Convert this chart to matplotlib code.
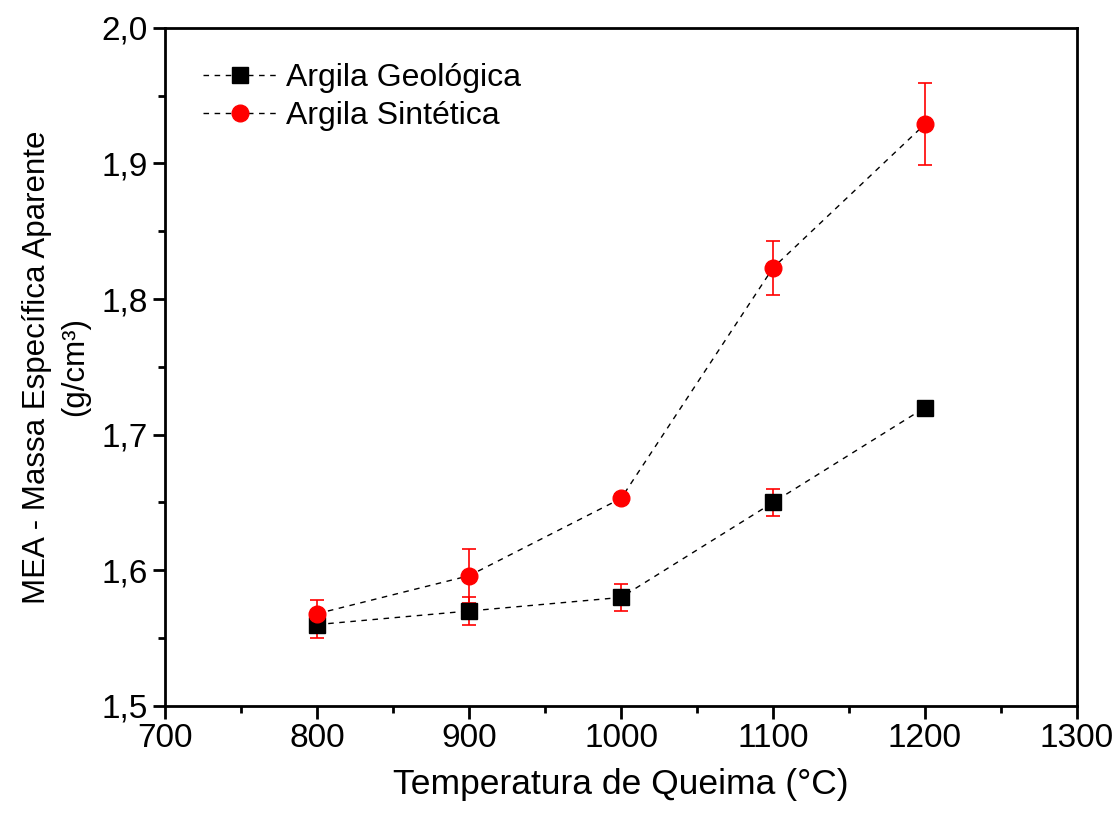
import matplotlib
matplotlib.use("Agg")
import matplotlib.pyplot as plt
from matplotlib.ticker import MultipleLocator, FuncFormatter

plt.rcParams['font.family'] = ['Liberation Sans', 'DejaVu Sans']

# data
temp = [800, 900, 1000, 1100, 1200]
geo = [1.56, 1.57, 1.58, 1.65, 1.72]
geo_err = [0.01, 0.01, 0.01, 0.01, 0.0]
sint = [1.568, 1.596, 1.653, 1.823, 1.929]
sint_err = [0.01, 0.02, 0.003, 0.02, 0.03]

fig = plt.figure(figsize=(11.16, 8.18), dpi=100)
ax = fig.add_axes([0.148, 0.137, 0.817, 0.829])

dash = (4, 4)

# error bars (red for both series)
ax.errorbar(temp, geo, yerr=geo_err, fmt='none', ecolor='red',
            elinewidth=1.2, capsize=5, capthick=1.2, zorder=2)
ax.errorbar(temp, sint, yerr=sint_err, fmt='none', ecolor='red',
            elinewidth=1.2, capsize=5, capthick=1.2, zorder=2)

# dashed lines with markers
ax.plot(temp, geo, ls='--', dashes=dash, lw=1, color='black', marker='s',
        mfc='black', mec='black', markersize=11, label='Argila Geológica', zorder=3)
ax.plot(temp, sint, ls='--', dashes=dash, lw=1, color='black', marker='o',
        mfc='red', mec='red', markersize=12, label='Argila Sintética', zorder=3)

ax.set_xlim(700, 1300)
ax.set_ylim(1.5, 2.0)
ax.xaxis.set_major_locator(MultipleLocator(100))
ax.xaxis.set_minor_locator(MultipleLocator(50))
ax.yaxis.set_major_locator(MultipleLocator(0.1))
ax.yaxis.set_minor_locator(MultipleLocator(0.05))
ax.yaxis.set_major_formatter(FuncFormatter(lambda v, p: f"{v:.1f}".replace('.', ',')))

ax.tick_params(which='major', direction='out', length=9, width=2, labelsize=24)
ax.tick_params(which='minor', direction='out', length=5, width=2)
for s in ax.spines.values():
    s.set_linewidth(2)

ax.set_xlabel('Temperatura de Queima (°C)', fontsize=25.5, labelpad=10)
ax.set_ylabel('MEA - Massa Específica Aparente\n(g/cm³)', fontsize=22.5, labelpad=8,
              linespacing=1.35)

ax.legend(loc='upper left', frameon=False, fontsize=23,
          handlelength=2.3, handletextpad=0.3, labelspacing=0.25,
          bbox_to_anchor=(0.01, 0.99))

fig.savefig('out.png', dpi=100)
